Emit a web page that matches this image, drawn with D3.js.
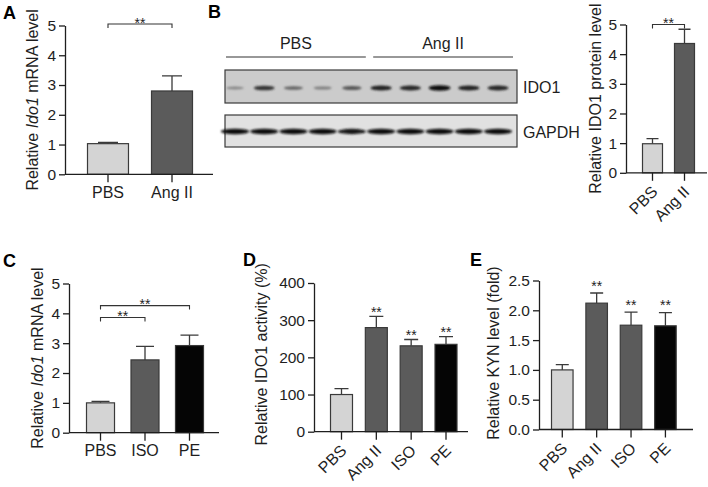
<!DOCTYPE html>
<html><head><meta charset="utf-8">
<script src="https://cdn.jsdelivr.net/npm/d3@7"></script>
<style>
html,body{margin:0;padding:0;background:#fff;}
svg{display:block;font-family:"Liberation Sans",Arial,sans-serif;}
</style></head>
<body><svg id="fig" width="708" height="487"></svg>
<script>
// ---------- DATA ----------
const catsA = ["PBS", "Ang II"];
const meanA = [1.03, 2.80];
const errA  = [1.07, 3.31];
const ticksA = [0, 1, 2, 3, 4, 5];

const catsB = ["PBS", "Ang II"];
const meanB = [0.98, 4.36];
const errB  = [1.15, 4.84];
const ticksB = [0, 1, 2, 3, 4, 5];

const catsC = ["PBS", "ISO", "PE"];
const meanC = [1.00, 2.44, 2.92];
const errC  = [1.05, 2.89, 3.27];
const ticksC = [0, 1, 2, 3, 4, 5];

const catsD = ["PBS", "Ang II", "ISO", "PE"];
const meanD = [100, 280, 231, 235];
const errD  = [116, 310, 248, 256];
const ticksD = [0, 100, 200, 300, 400];
const starsD = ["", "**", "**", "**"];

const catsE = ["PBS", "Ang II", "ISO", "PE"];
const meanE = [1.00, 2.12, 1.75, 1.74];
const errE  = [1.09, 2.29, 1.97, 1.96];
const ticksE = [0, 0.5, 1.0, 1.5, 2.0, 2.5];
const starsE = ["", "**", "**", "**"];

// significance brackets: [from, to, label, level]
const sigA = [["PBS", "Ang II", "**", 5.05]];
const sigB = [["PBS", "Ang II", "**", 5.0]];
const sigC = [["PBS", "ISO", "**", 3.86], ["PBS", "PE", "**", 4.26]];

// western blot lanes
const blotGroups = ["PBS", "Ang II"];
const blotLanes = [1, 2, 3, 4, 5, 6, 7, 8, 9, 10];
const ido1Intensity  = [0.3, 0.78, 0.5, 0.35, 0.58, 0.9, 0.86, 1.0, 0.9, 0.86];
const gapdhIntensity = [1.0, 1.0, 1.0, 1.0, 0.98, 1.0, 1.0, 1.0, 1.0, 1.0];

// ---------- DRAWING ----------
const svg = d3.select("#fig");
const INK = "#1e1e1e";
const FONT = '"Liberation Sans",Arial,sans-serif';
const FILL = {"PBS": "#d4d4d4", "Ang II": "#5b5b5b", "ISO": "#5b5b5b", "PE": "#050505"};

function panel(cfg) {
  const g = svg.append("g");
  const y = d3.scaleLinear().domain(cfg.domain).range([cfg.y0, cfg.y1]);
  const x = d3.scaleBand().domain(cfg.cats).range([cfg.barL, cfg.barR]).paddingInner(cfg.pad);
  const cx = c => x(c) + x.bandwidth() / 2;

  const data = cfg.cats.map((c, i) => ({c, m: cfg.mean[i], e: cfg.err[i]}));
  const cap = cfg.cap;
  g.selectAll(".wh").data(data).join("path")
    .attr("d", d => `M${cx(d.c)},${y(d.m)}V${y(d.e)}M${cx(d.c) - cap / 2},${y(d.e)}H${cx(d.c) + cap / 2}`)
    .attr("stroke", "#3a3a3a").attr("stroke-width", 1.3).attr("fill", "none");
  g.selectAll(".bar").data(data).join("rect")
    .attr("x", d => x(d.c) + 0.5).attr("y", d => y(d.m))
    .attr("width", x.bandwidth() - 1).attr("height", d => y(0) - y(d.m))
    .attr("fill", d => FILL[d.c]).attr("stroke", "#3a3a3a").attr("stroke-width", 1.2);

  // y axis
  const ya = d3.axisLeft(y).tickValues(cfg.ticks).tickSize(6).tickSizeOuter(0).tickPadding(3)
    .tickFormat(cfg.fmt || d3.format("d"));
  const yg = g.append("g").attr("transform", `translate(${cfg.ax},0)`).call(ya);
  yg.select(".domain").attr("stroke", INK).attr("stroke-width", 1.3);
  yg.selectAll(".tick line").attr("stroke", INK).attr("stroke-width", 1.3);
  yg.selectAll(".tick text").attr("fill", INK).style("font-size", "15.5px").style("font-family", FONT);

  // x axis
  g.append("line").attr("x1", cfg.ax).attr("x2", cfg.axEnd).attr("y1", y(0)).attr("y2", y(0))
    .attr("stroke", INK).attr("stroke-width", 1.3);
  const xa = d3.axisBottom(x).tickSize(8).tickSizeOuter(0).tickPadding(6);
  const xg = g.append("g").attr("transform", `translate(0,${y(0)})`).call(xa);
  xg.select(".domain").remove();
  xg.selectAll(".tick line").attr("stroke", INK).attr("stroke-width", 1.3);
  const tt = xg.selectAll(".tick text").attr("fill", INK).style("font-size", "16px").style("font-family", FONT);
  if (cfg.rotate) {
    tt.attr("text-anchor", "end").attr("dy", null).attr("y", null)
      .attr("transform", "translate(6,20) rotate(-45)");
  } else {
    tt.attr("dy", "0.71em").attr("y", 12);
  }

  // y title
  const t = g.append("text").attr("fill", INK).style("font-size", "16px")
    .attr("text-anchor", "middle")
    .attr("transform", `translate(${cfg.titleX},${(cfg.y0 + cfg.y1) / 2 + (cfg.titleDy || 0)}) rotate(-90)`);
  cfg.title.forEach(p => t.append("tspan").text(p[0]).style("font-style", p[1] ? "italic" : "normal"));

  // brackets
  (cfg.sig || []).forEach(s => {
    const by = y(s[3]);
    g.append("path")
      .attr("d", `M${cx(s[0])},${by + 4}V${by}H${cx(s[1])}V${by + 4}`)
      .attr("fill", "none").attr("stroke", "#333").attr("stroke-width", 1.1);
    g.append("text").attr("x", (cx(s[0]) + cx(s[1])) / 2).attr("y", by + 3.5)
      .attr("text-anchor", "middle").attr("fill", INK).style("font-size", "14px").text(s[2]);
  });
  if (cfg.stars) {
    g.selectAll(".st").data(data).join("text")
      .attr("x", d => cx(d.c)).attr("y", d => y(d.e) + cfg.starDy)
      .attr("text-anchor", "middle").attr("fill", INK).style("font-size", "14px")
      .text((d, i) => cfg.stars[i]);
  }

  svg.append("text").attr("x", cfg.letter[1]).attr("y", cfg.letter[2])
    .attr("fill", "#000").style("font-size", "18px").style("font-weight", "bold").text(cfg.letter[0]);
}

panel({cats: catsA, mean: meanA, err: errA, ticks: ticksA, domain: [0, 5],
  y0: 174.3, y1: 25.5, barL: 87, barR: 193, pad: 0.344, ax: 65, axEnd: 213, cap: 20,
  title: [["Relative "], ["Ido1", true], [" mRNA level"]], titleX: 38, sig: sigA,
  letter: ["A", 3, 19]});

panel({cats: catsB, mean: meanB, err: errB, ticks: ticksB, domain: [0, 5],
  y0: 172.8, y1: 24.5, barL: 642, barR: 695, pad: 0.344, ax: 626, axEnd: 707, cap: 12,
  title: [["Relative IDO1 protein level"]], titleX: 601, sig: sigB, rotate: true,
  letter: ["B", 208, 18]});

panel({cats: catsC, mean: meanC, err: errC, ticks: ticksC, domain: [0, 5],
  y0: 432.7, y1: 283.5, barL: 86, barR: 204, pad: 0.348, ax: 69, axEnd: 219, cap: 18,
  title: [["Relative "], ["Ido1", true], [" mRNA level"]], titleX: 43, sig: sigC,
  letter: ["C", 3, 267]});

panel({cats: catsD, mean: meanD, err: errD, ticks: ticksD, domain: [0, 400],
  y0: 431.7, y1: 283, barL: 330, barR: 457.5, pad: 0.34, ax: 314, axEnd: 468, cap: 14,
  title: [["Relative IDO1 activity (%)"]], titleX: 267, titleDy: -3, rotate: true,
  stars: starsD, starDy: 0.5, letter: ["D", 243, 266]});

panel({cats: catsE, mean: meanE, err: errE, ticks: ticksE, domain: [0, 2.5],
  y0: 429.5, y1: 280.5, barL: 551, barR: 676.7, pad: 0.344, ax: 539, axEnd: 693, cap: 13,
  fmt: d3.format(".1f"),
  title: [["Relative KYN level (fold)"]], titleX: 499, titleDy: -2, rotate: true,
  stars: starsE, starDy: -2.5, letter: ["E", 470, 266]});

// ---------- WESTERN BLOT ----------
const blot = svg.append("g");
const defs = svg.append("defs");
defs.append("filter").attr("id", "blur").attr("x", "-50%").attr("y", "-200%")
  .attr("width", "200%").attr("height", "500%")
  .append("feGaussianBlur").attr("stdDeviation", 0.9);

const laneX = d3.scalePoint().domain(blotLanes).range([235, 498]);
const groupX = d3.scaleBand().domain(blotGroups).range([226, 513]).paddingInner(0.05);

blotGroups.forEach(gname => {
  blot.append("line").attr("x1", groupX(gname)).attr("x2", groupX(gname) + groupX.bandwidth())
    .attr("y1", 57).attr("y2", 57).attr("stroke", "#333").attr("stroke-width", 1.1);
  blot.append("text").attr("x", groupX(gname) + groupX.bandwidth() / 2).attr("y", 49)
    .attr("text-anchor", "middle").attr("fill", INK).style("font-size", "16px").text(gname);
});

blot.append("rect").attr("x", 225).attr("y", 70).attr("width", 292).attr("height", 33)
  .attr("fill", "#cbcbcb").attr("stroke", "#3a3a3a").attr("stroke-width", 1.2);
blot.append("rect").attr("x", 225).attr("y", 115).attr("width", 292).attr("height", 32)
  .attr("fill", "#e1e1e1").attr("stroke", "#3a3a3a").attr("stroke-width", 1.2);

const shade = d3.scaleLinear().domain([0, 1]).range([185, 15]);
blot.selectAll(".ido").data(ido1Intensity).join("ellipse")
  .attr("cx", (d, i) => laneX(blotLanes[i])).attr("cy", 88)
  .attr("rx", d => 8 + 3 * d).attr("ry", d => 1.0 + 1.7 * d)
  .attr("fill", d => { const v = Math.round(shade(d)); return `rgb(${v},${v},${v})`; })
  .attr("filter", "url(#blur)");
blot.selectAll(".gap").data(gapdhIntensity).join("ellipse")
  .attr("cx", (d, i) => laneX(blotLanes[i])).attr("cy", 131.5)
  .attr("rx", 14).attr("ry", d => 2.7 * d)
  .attr("fill", d => { const v = Math.round(shade(d)); return `rgb(${v},${v},${v})`; })
  .attr("filter", "url(#blur)");

blot.append("text").attr("x", 523).attr("y", 93).attr("fill", INK).style("font-size", "16px").text("IDO1");
blot.append("text").attr("x", 523).attr("y", 138).attr("fill", INK).style("font-size", "16px").text("GAPDH");
</script></body></html>
